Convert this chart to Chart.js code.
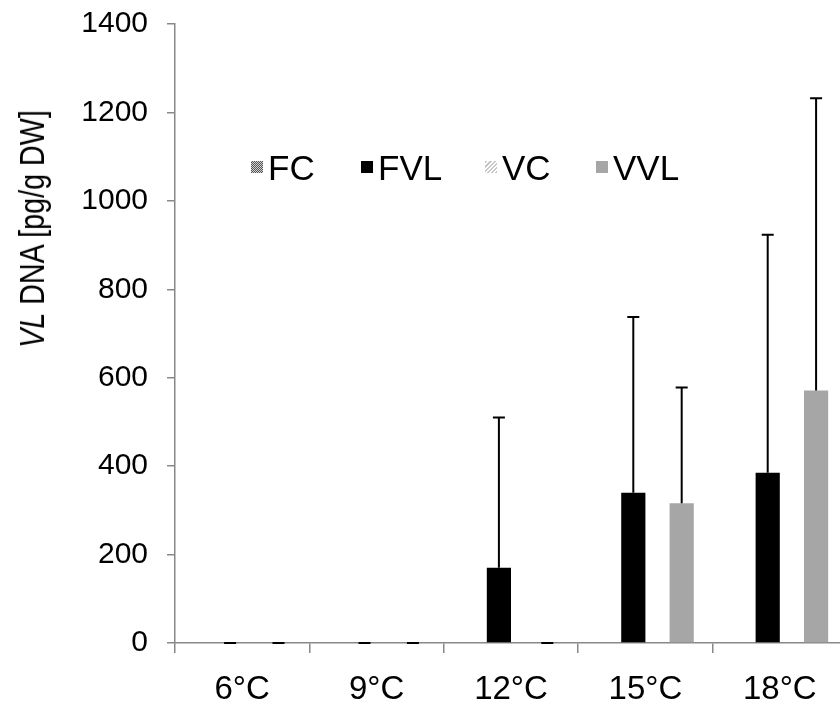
<!DOCTYPE html>
<html>
<head>
<meta charset="utf-8">
<script src="https://cdn.jsdelivr.net/npm/chart.js@4.4.1/dist/chart.umd.min.js"></script>
<style>
  html, body { margin: 0; padding: 0; background: #fff; overflow: hidden; width: 840px; height: 707px; }
  #wrap { position: relative; width: 850px; height: 707px; }
  #c { position: absolute; left: 0; top: 0; }
  #ytitle {
    position: absolute; left: 32px; top: 229px; line-height: 34px;
    transform: translate(-50%, -50%) rotate(-90deg) scaleX(0.82);
    font-family: "Liberation Sans", Arial, sans-serif; font-size: 35px; color: #000; white-space: nowrap;
  }
  .item {
    position: absolute; top: 150px; height: 35px;
    font-family: "Liberation Sans", Arial, sans-serif; font-size: 35px; line-height: 35px; color: #000; white-space: nowrap;
  }
  .sw { position: absolute; left: 0; top: 11px; width: 12px; height: 12px; }
  .tx { position: absolute; left: 17px; top: 0; }
</style>
</head>
<body>
<div id="wrap">
  <canvas id="c" width="850" height="707"></canvas>
  <div id="ytitle"><i>VL</i> DNA [pg/g DW]</div>
</div>
<script>
// ---- data ----
const categories = ['6°C', '9°C', '12°C', '15°C', '18°C'];
const seriesNames = ['FC', 'FVL', 'VC', 'VVL'];
const fcValues  = [0, 0, 0, 0, 0];
const fvlValues = [0, 0, 170, 340, 385];
const vcValues  = [0, 0, 0, 0, 0];
const vvlValues = [0, 0, 0, 316, 571];
const fvlErrUp  = [0, 0, 340, 397, 538];
const vvlErrUp  = [0, 0, 0, 262, 661];
const yTicks = [0, 200, 400, 600, 800, 1000, 1200, 1400];

// ---- patterns ----
function checkerPattern() {
  const p = document.createElement('canvas'); p.width = 2; p.height = 2;
  const g = p.getContext('2d');
  g.fillStyle = '#d0d0d0'; g.fillRect(0, 0, 2, 2);
  g.fillStyle = '#555'; g.fillRect(0, 0, 1, 1); g.fillRect(1, 1, 1, 1);
  return p;
}
function hatchPattern() {
  const p = document.createElement('canvas'); p.width = 4; p.height = 4;
  const g = p.getContext('2d');
  g.fillStyle = '#fff'; g.fillRect(0, 0, 4, 4);
  g.strokeStyle = '#c8c8c8'; g.lineWidth = 1.4;
  g.beginPath(); g.moveTo(0, 4); g.lineTo(4, 0); g.moveTo(-1, 1); g.lineTo(1, -1); g.moveTo(3, 5); g.lineTo(5, 3); g.stroke();
  return p;
}
const ctx = document.getElementById('c').getContext('2d');
const fcFill = ctx.createPattern(checkerPattern(), 'repeat');
const vcFill = ctx.createPattern(hatchPattern(), 'repeat');
const colors = [fcFill, '#000000', vcFill, '#a6a6a6'];

// ---- HTML legend ----
const wrap = document.getElementById('wrap');
const legendLeft = [251, 361, 485, 596];
const swatchCss = [
  'background: repeating-conic-gradient(#555 0 25%, #d0d0d0 0 50%) 0 0/2px 2px;',
  'background:#000;',
  'background: repeating-linear-gradient(-45deg, #c8c8c8 0 1.5px, #fff 1.5px 3px);',
  'background:#a6a6a6;'
];
seriesNames.forEach((n, i) => {
  const it = document.createElement('div'); it.className = 'item'; it.style.left = legendLeft[i] + 'px';
  const sw = document.createElement('div'); sw.className = 'sw'; sw.style.cssText = swatchCss[i];
  const tx = document.createElement('span'); tx.className = 'tx'; tx.textContent = n;
  it.appendChild(sw); it.appendChild(tx); wrap.appendChild(it);
});

// ---- error bar plugin ----
const errorBars = {
  id: 'errorBars',
  afterDatasetsDraw(chart) {
    const c = chart.ctx;
    const yScale = chart.scales.y;
    const errs = { 1: fvlErrUp, 3: vvlErrUp };
    c.save();
    c.strokeStyle = '#000'; c.lineWidth = 2;
    Object.keys(errs).forEach(di => {
      const meta = chart.getDatasetMeta(+di);
      const vals = chart.data.datasets[di].data;
      meta.data.forEach((bar, i) => {
        const top = yScale.getPixelForValue(vals[i] + errs[di][i]);
        const base = yScale.getPixelForValue(vals[i]);
        c.beginPath();
        c.moveTo(bar.x, base); c.lineTo(bar.x, top);
        c.moveTo(bar.x - 6, top); c.lineTo(bar.x + 6, top);
        c.stroke();
      });
    });
    c.restore();
  }
};

const dataArrays = [fcValues, fvlValues, vcValues, vvlValues];
new Chart(ctx, {
  type: 'bar',
  data: {
    labels: categories,
    datasets: seriesNames.map((n, i) => ({
      label: n, data: dataArrays[i], backgroundColor: colors[i],
      borderWidth: 0, barPercentage: 1.0, categoryPercentage: 0.72
    }))
  },
  options: {
    responsive: false, animation: false, devicePixelRatio: 1,
    layout: { padding: { top: 10, right: 3, left: 0, bottom: 0 } },
    plugins: { legend: { display: false }, tooltip: { enabled: false } },
    scales: {
      x: {
        grid: { display: true, drawOnChartArea: false, offset: true, tickLength: 10, color: '#888', lineWidth: 1.5 },
        border: { color: '#888', width: 1.5 },
        ticks: { color: '#000', font: { family: 'Liberation Sans, Arial', size: 33 }, padding: 17, maxRotation: 0 },
        afterFit(s) { s.height = 64; }
      },
      y: {
        min: 0, max: 1400,
        afterBuildTicks(s) { s.ticks = yTicks.map(v => ({ value: v })); },
        grid: { display: true, drawOnChartArea: false, tickLength: 8, color: '#888', lineWidth: 1.5 },
        border: { color: '#888', width: 1.5 },
        ticks: {
          color: '#000', font: { family: 'Liberation Sans, Arial', size: 30, lineHeight: 0.33 }, padding: 19,
          callback: v => String(v)
        },
        afterFit(s) { s.width = 175; }
      }
    }
  },
  plugins: [errorBars]
});
</script>
</body>
</html>
